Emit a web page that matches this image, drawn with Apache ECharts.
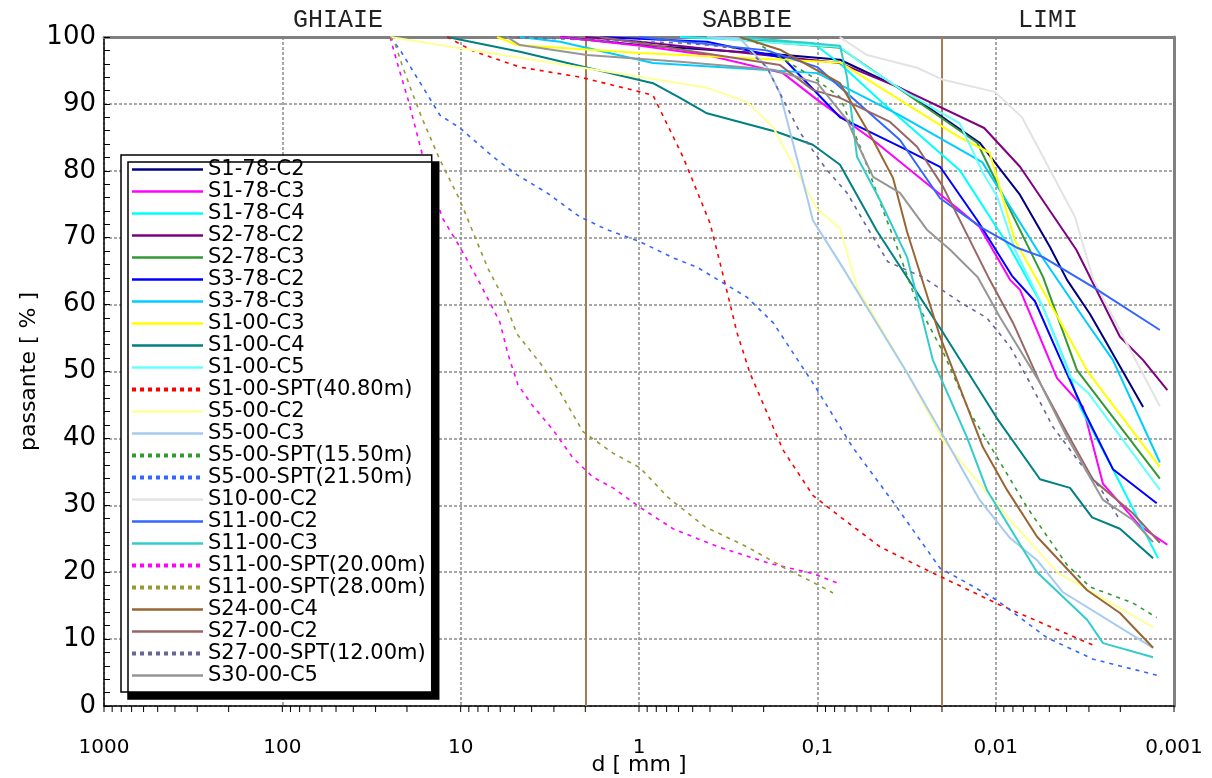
<!DOCTYPE html>
<html>
<head>
<meta charset="utf-8">
<script src="https://cdn.jsdelivr.net/npm/echarts@6/dist/echarts.min.js"></script>
<style>
html,body{margin:0;padding:0;background:#fff;}
#chart{width:1212px;height:778px;}
</style>
</head>
<body>
<div id="chart"></div>
<script>
// ---- data: [d (mm), passante (%)] ----
const S1_78_C2 = [[2.77,100],[1.0,98.8],[0.152,97.3],[0.0746,96.6],[0.0344,92.4],[0.0123,84.2],[0.0073,76.4],[0.00496,68.6],[0.00398,63.7],[0.00296,58.6],[0.00244,54.7],[0.00149,44.7]];
const S1_78_C3 = [[2.77,100],[0.987,98.7],[0.416,97.3],[0.156,94.6],[0.1,90.6],[0.0487,84.6],[0.0159,74.1],[0.0123,71.6],[0.0083,63.7],[0.0073,62.2],[0.00453,49.0],[0.00324,44.7],[0.0025,33.2],[0.00155,26.9],[0.00109,24.1]];
const S1_78_C4 = [[0.589,100],[0.106,99.1],[0.0746,96.0],[0.0445,90.5],[0.0159,80.1],[0.0082,68.2],[0.00542,59.6],[0.00398,50.7],[0.00336,44.7],[0.0022,35.4],[0.00123,22.1]];
const S2_78_C2 = [[2.0,100],[0.987,99.3],[0.0746,96.1],[0.0344,92.4],[0.0116,86.4],[0.0073,80.6],[0.00353,68.2],[0.00201,55.2],[0.00149,51.7],[0.00109,47.2]];
const S2_78_C3 = [[0.416,100],[0.0746,98.4],[0.0127,84.2],[0.00542,64.1],[0.0035,50.2],[0.0012,34.0]];
const S3_78_C2 = [[1.65,100],[0.416,99.3],[0.156,96.9],[0.0746,88.0],[0.0344,83.6],[0.0205,80.6],[0.0126,72.5],[0.0081,64.3],[0.00602,60.5],[0.00436,52.0],[0.00324,44.4],[0.0022,35.4],[0.00125,30.3]];
const S3_78_C3 = [[4.65,100],[2.77,99.3],[0.835,96.1],[0.1,94.6],[0.0344,88.3],[0.0119,81.3],[0.00586,68.2],[0.00316,57.7],[0.0022,51.7],[0.0012,36.4]];
const S1_00_C3 = [[6.25,100],[4.83,98.8],[0.987,97.6],[0.0746,96.2],[0.0159,85.0],[0.0108,82.7],[0.0078,69.6],[0.00586,63.7],[0.00303,49.9],[0.0012,35.7]];
const S1_00_C4 = [[11.9,100],[4.65,97.8],[0.835,93.1],[0.589,90.9],[0.416,88.6],[0.168,85.8],[0.106,83.9],[0.0746,80.9],[0.0463,71.0],[0.0205,56.5],[0.00983,43.0],[0.00564,33.9],[0.00383,32.6],[0.00288,28.2],[0.00201,26.5],[0.00131,22.1]];
const S1_00_C5 = [[0.416,100],[0.248,99.4],[0.0746,98.5],[0.0527,95.5],[0.0314,91.6],[0.0159,87.1],[0.0118,79.7],[0.00983,76.2],[0.0078,68.2],[0.00542,59.6],[0.00383,49.2],[0.00303,46.8],[0.0012,32.3]];
const S1_00_SPT40 = [[11.9,100],[8.53,97.9],[4.65,95.5],[2.14,94.0],[0.987,91.8],[0.835,91.3],[0.567,82.1],[0.4,72.2],[0.351,66.2],[0.282,55.8],[0.239,49.8],[0.156,38.3],[0.106,31.5],[0.0746,28.3],[0.0445,23.8],[0.0256,20.6],[0.00946,15.1],[0.00284,9.1]];
const S5_00_C2 = [[24.9,100],[0.589,93.1],[0.416,92.4],[0.248,90.3],[0.177,86.5],[0.1,74.2],[0.0746,71.4],[0.0599,62.6],[0.0314,49.8],[0.0197,39.7],[0.0083,27.8],[0.00447,19.9],[0.00131,11.8]];
const S5_00_C3 = [[0.416,100],[0.272,99.8],[0.192,95.5],[0.162,91.6],[0.115,76.4],[0.106,72.6],[0.0746,66.2],[0.0527,59.6],[0.0314,49.8],[0.018,38.6],[0.0123,30.8],[0.0083,25.1],[0.00586,21.8],[0.00419,17.0],[0.00131,8.7]];
const S5_00_SPT15 = [[0.248,100],[0.106,94.0],[0.0746,91.0],[0.0576,83.6],[0.0428,74.1],[0.0367,69.4],[0.0276,60.2],[0.0197,52.9],[0.0139,43.8],[0.00983,37.2],[0.00667,29.7],[0.00398,21.1],[0.00296,17.8],[0.0017,15.4],[0.00125,13.2]];
const S5_00_SPT21 = [[24.9,100],[21.9,98.1],[13.05,88.3],[10.09,86.4],[6.59,82.1],[4.83,79.4],[3.28,76.7],[2.14,73.1],[1.51,71.2],[0.987,69.4],[0.645,67.0],[0.473,65.6],[0.248,61.1],[0.177,57.3],[0.106,48.3],[0.0631,38.6],[0.0376,30.5],[0.0205,20.6],[0.0145,18.4],[0.00983,15.8],[0.00515,10.2],[0.00284,7.0],[0.00125,4.6]];
const S10_00_C2 = [[0.075,100],[0.0527,97.3],[0.0276,95.4],[0.0197,93.6],[0.0101,91.8],[0.00712,88.0],[0.00359,73.1],[0.00284,63.8],[0.0012,44.8]];
const S11_00_C2 = [[1.0,100],[0.192,98.0],[0.1,95.5],[0.0344,84.6],[0.0205,75.9],[0.0118,71.4],[0.0076,68.5],[0.00542,67.1],[0.00284,62.6],[0.0012,56.2]];
const S11_00_C3 = [[0.272,100],[0.0746,98.7],[0.0682,94.0],[0.0599,82.1],[0.0445,75.6],[0.0314,67.1],[0.0225,51.7],[0.0145,40.2],[0.0112,32.3],[0.00586,20.0],[0.00307,12.9],[0.0025,9.4],[0.00131,7.3]];
const S11_00_SPT20 = [[24.9,100],[22.5,95.8],[19.7,90.6],[16.5,82.7],[12.7,73.0],[10.09,68.6],[7.8,63.2],[6.03,57.4],[5.43,52.6],[4.77,48.0],[3.98,45.0],[3.04,41.3],[2.35,37.1],[1.81,34.2],[1.4,32.6],[0.987,29.7],[0.645,26.5],[0.361,23.8],[0.184,21.3],[0.106,19.8],[0.0776,18.4]];
const S11_00_SPT28 = [[24.9,100],[23.4,99.1],[21.3,95.8],[19.2,92.5],[16.5,87.9],[13.05,81.6],[10.09,75.6],[8.31,70.1],[7.03,65.4],[5.79,61.1],[4.83,55.6],[3.59,51.3],[2.77,46.9],[2.06,41.0],[1.4,37.8],[0.987,35.6],[0.688,31.2],[0.427,26.8],[0.248,23.8],[0.152,20.6],[0.0941,17.8],[0.0817,16.9]];
const S24_00_C4 = [[0.272,100],[0.162,98.1],[0.0746,93.1],[0.0487,84.6],[0.0376,78.9],[0.0314,70.9],[0.0205,55.2],[0.0118,38.7],[0.00864,32.3],[0.00586,25.3],[0.00307,17.3],[0.00201,13.9],[0.00131,8.7]];
const S27_00_C2 = [[1.65,100],[0.162,95.8],[0.106,92.1],[0.0746,90.9],[0.0391,87.3],[0.0276,83.6],[0.0197,77.6],[0.0108,63.7],[0.008,57.3],[0.00564,48.3],[0.00398,40.8],[0.00284,33.8],[0.0017,28.8],[0.0012,24.4]];
const S27_00_SPT12 = [[5.5,100],[0.589,99.1],[0.416,98.8],[0.248,98.1],[0.192,95.5],[0.162,91.6],[0.125,85.7],[0.0883,80.1],[0.0682,76.7],[0.0527,71.6],[0.0402,66.4],[0.0256,64.1],[0.0159,60.4],[0.0112,58.0],[0.0083,53.7],[0.00642,48.3],[0.00477,41.7],[0.00336,36.3],[0.0026,32.6],[0.00201,27.8]];
const S30_00_C5 = [[5.5,100],[4.65,98.8],[1.96,97.3],[0.589,96.3],[0.177,95.1],[0.1,93.1],[0.0682,87.6],[0.0599,84.2],[0.0487,79.1],[0.0344,76.7],[0.0243,71.2],[0.018,68.2],[0.0126,64.1],[0.00946,58.1],[0.00564,48.3],[0.00398,40.2],[0.0025,30.8],[0.0017,27.8],[0.00131,24.5]];

const seriesNames = ['S1-78-C2','S1-78-C3','S1-78-C4','S2-78-C2','S2-78-C3','S3-78-C2','S3-78-C3','S1-00-C3','S1-00-C4','S1-00-C5','S1-00-SPT(40.80m)','S5-00-C2','S5-00-C3','S5-00-SPT(15.50m)','S5-00-SPT(21.50m)','S10-00-C2','S11-00-C2','S11-00-C3','S11-00-SPT(20.00m)','S11-00-SPT(28.00m)','S24-00-C4','S27-00-C2','S27-00-SPT(12.00m)','S30-00-C5'];
const seriesData = [S1_78_C2,S1_78_C3,S1_78_C4,S2_78_C2,S2_78_C3,S3_78_C2,S3_78_C3,S1_00_C3,S1_00_C4,S1_00_C5,S1_00_SPT40,S5_00_C2,S5_00_C3,S5_00_SPT15,S5_00_SPT21,S10_00_C2,S11_00_C2,S11_00_C3,S11_00_SPT20,S11_00_SPT28,S24_00_C4,S27_00_C2,S27_00_SPT12,S30_00_C5];
const xTickLabels = {'1000':'1000','100':'100','10':'10','1':'1','0.1':'0,1','0.01':'0,01','0.001':'0,001'};
const zoneLabels = ['GHIAIE','SABBIE','LIMI'];
const zoneBounds = [2, 0.02];

// ---- styles ----
const colors = ['#000080','#ff00ff','#00ffff','#800080','#339933','#0000ff','#00ccff','#ffff00','#008080','#66ffff','#ff0000','#ffff99','#a6caf0','#339933','#3366ff','#e3e3e3','#3366ff','#33cccc','#ff00ff','#999933','#996633','#996666','#666699','#969696'];
const dotted = [false,false,false,false,false,false,false,false,false,false,true,false,false,true,true,false,false,false,true,true,false,false,true,false];

const minorTickVals = [];
for (let k = -3; k <= 2; k++) {
  for (let m = 1; m <= 9; m++) minorTickVals.push([m * Math.pow(10, k), 0]);
}
minorTickVals.push([1000, 0]);

const chart = echarts.init(document.getElementById('chart'), null, {renderer: 'canvas'});
const FONT = 'DejaVu Sans';

const series = seriesNames.map((name, i) => ({
  name: name,
  type: 'line',
  data: seriesData[i],
  symbol: 'none',
  xAxisIndex: 0, yAxisIndex: 0,
  lineStyle: dotted[i] ? {color: colors[i], width: 1.6, type: [4, 5]} : {color: colors[i], width: 2},
  itemStyle: {color: colors[i]},
  z: 3
}));
series[0].markLine = {
  silent: true, symbol: 'none', label: {show: false},
  lineStyle: {color: '#a67c52', width: 2, type: 'solid'},
  data: zoneBounds.map(v => ({xAxis: v})),
  z: 2
};
series.push({
  type: 'custom', name: '_ticks', silent: true, clip: false,
  xAxisIndex: 0, yAxisIndex: 0,
  data: minorTickVals,
  encode: {x: 0, y: 1},
  renderItem: function (params, api) {
    const p = api.coord([api.value(0), 0]);
    return {type: 'line', shape: {x1: p[0], y1: p[1], x2: p[0], y2: p[1] + 6}, style: {stroke: '#000', lineWidth: 1}};
  }
});

const option = {
  animation: false,
  backgroundColor: '#fff',
  grid: {left: 104, top: 37, right: 38, bottom: 72, containLabel: false, outerBoundsMode: 'none'},
  xAxis: [{
    type: 'log', logBase: 10, min: 0.001, max: 1000, inverse: true,
    name: 'd [ mm ]', nameLocation: 'middle', nameGap: 48, nameMoveOverlap: false,
    nameTextStyle: {fontFamily: FONT, fontSize: 22, color: '#000'},
    axisLine: {show: true, onZero: false, lineStyle: {color: '#000', width: 1.5}},
    axisTick: {show: false},
    axisLabel: {fontFamily: FONT, fontSize: 20, color: '#000', margin: 32,
      formatter: v => xTickLabels[String(+v.toPrecision(6))] || String(v).replace('.', ',')},
    splitLine: {show: true, lineStyle: {color: '#8c8c8c', width: 1.5, type: [3, 2]}},
    minorSplitLine: {show: false}
  }, {
    type: 'value', position: 'top', min: 0, max: 1,
    axisLine: {show: true, onZero: false, lineStyle: {color: '#808080', width: 3}},
    axisTick: {show: false}, axisLabel: {show: false}, splitLine: {show: false}
  }],
  yAxis: [{
    type: 'value', min: 0, max: 100, interval: 10,
    name: 'passante [ % ]', nameLocation: 'middle', nameGap: 64, nameRotate: 90, nameMoveOverlap: false,
    nameTextStyle: {fontFamily: FONT, fontSize: 22, color: '#000'},
    axisLine: {show: true, onZero: false, lineStyle: {color: '#000', width: 1.5}},
    axisTick: {show: true, inside: true, length: 6, lineStyle: {color: '#000'}},
    minorTick: {show: true, splitNumber: 5, length: 6, lineStyle: {color: '#000'}},
    axisLabel: {fontFamily: FONT, fontSize: 26, color: '#000', margin: 8},
    splitLine: {show: true, lineStyle: {color: '#8c8c8c', width: 1.5, type: [3, 2]}}
  }, {
    type: 'value', position: 'right', min: 0, max: 1,
    axisLine: {show: true, onZero: false, lineStyle: {color: '#808080', width: 3}},
    axisTick: {show: false}, axisLabel: {show: false}, splitLine: {show: false}
  }],
  legend: {
    show: true, orient: 'vertical', left: 121, top: 155, height: 600,
    padding: [4, 6, 6, 9], itemGap: 1, itemWidth: 71, itemHeight: 14,
    backgroundColor: '#fff', borderColor: '#000', borderWidth: 1.5,
    shadowColor: '#000', shadowBlur: 0, shadowOffsetX: 7, shadowOffsetY: 7,
    itemStyle: {opacity: 0},
    textStyle: {fontFamily: FONT, fontSize: 21, color: '#000'},
    data: seriesNames.map((n, i) => ({
      name: n,
      itemStyle: {opacity: 0},
      lineStyle: dotted[i] ? {width: 4, type: [4, 4]} : {width: 2.5}
    }))
  },
  graphic: [
    {type: 'text', left: 293, top: 8, style: {text: zoneLabels[0], font: '25px "Liberation Mono"', fill: '#222'}},
    {type: 'text', left: 702, top: 8, style: {text: zoneLabels[1], font: '25px "Liberation Mono"', fill: '#222'}},
    {type: 'text', left: 1018, top: 8, style: {text: zoneLabels[2], font: '25px "Liberation Mono"', fill: '#222'}}
  ],
  series: series
};
chart.setOption(option);
</script>
</body>
</html>
